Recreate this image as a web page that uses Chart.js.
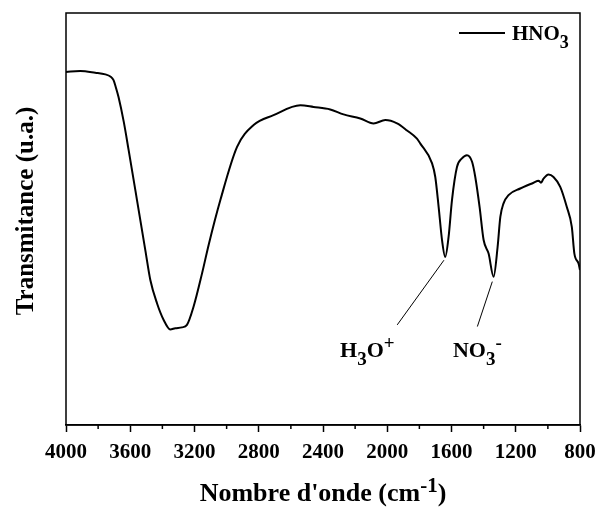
<!DOCTYPE html>
<html>
<head>
<meta charset="utf-8">
<script src="https://cdn.jsdelivr.net/npm/chart.js@4.4.1/dist/chart.umd.min.js"></script>
<style>
  html, body { margin: 0; padding: 0; background: #fff; }
  #wrap { width: 597px; height: 508px; }
</style>
</head>
<body>
<div id="wrap"><canvas id="irChart"></canvas></div>
<script>
  // spectrum (wavenumber in cm-1, transmittance in arbitrary units)
  const wavenumbers = [4000, 3911, 3818, 3755, 3724, 3704, 3690, 3673, 3640, 3610, 3558, 3506, 3475, 3433, 3392, 3351, 3320, 3278, 3247, 3206, 3153, 3112, 3039, 2935, 2832, 2708, 2541, 2459, 2355, 2272, 2168, 2085, 2012, 1939, 1877, 1815, 1794, 1721, 1701, 1680, 1659, 1639, 1618, 1597, 1566, 1535, 1504, 1472, 1452, 1425, 1400, 1369, 1338, 1313, 1296, 1276, 1245, 1172, 1089, 1058, 1043, 1027, 996, 965, 923, 882, 851, 835, 809, 800];
  const transmittance = [85.7, 85.9, 85.5, 85.1, 84.6, 83.7, 82.0, 79.6, 73.5, 66.7, 54.6, 42.4, 35.2, 29.5, 25.5, 23.2, 23.5, 23.7, 24.3, 28.7, 36.8, 43.7, 54.6, 67.5, 72.8, 75.2, 77.6, 77.2, 76.6, 75.4, 74.4, 73.2, 74.0, 73.2, 71.5, 69.5, 68.3, 63.5, 60.2, 52.9, 44.9, 40.8, 45.7, 54.6, 62.6, 64.7, 65.5, 63.9, 60.2, 52.9, 44.9, 41.6, 36.0, 43.2, 50.5, 53.8, 55.8, 57.4, 58.8, 59.3, 58.8, 59.8, 60.8, 60.2, 57.8, 52.9, 48.1, 41.6, 39.2, 37.6];
  const majorTicks = [4000, 3600, 3200, 2800, 2400, 2000, 1600, 1200, 800];
  const seriesName = 'HNO3';

  const FONT = '"Liberation Serif", "Times New Roman", serif';

  // draws text made of parts: s = 0 normal, -1 subscript, 1 superscript
  function drawRich(ctx, parts, x, y, size, align, smallRatio) {
    const small = Math.round(size * (smallRatio || 0.8));
    let total = 0;
    parts.forEach(p => {
      ctx.font = 'bold ' + (p.s ? small : size) + 'px ' + FONT;
      p.w = ctx.measureText(p.t).width;
      total += p.w;
    });
    let cx = align === 'center' ? x - total / 2 : (align === 'right' ? x - total : x);
    ctx.textAlign = 'left';
    ctx.textBaseline = 'alphabetic';
    parts.forEach(p => {
      ctx.font = 'bold ' + (p.s ? small : size) + 'px ' + FONT;
      let dy = 0;
      if (p.s === -1) dy = size * 0.38;
      if (p.s === 1) dy = -size * 0.36;
      ctx.fillText(p.t, cx, y + dy);
      cx += p.w;
    });
  }

  const extras = {
    id: 'extras',
    afterDraw(chart) {
      const ctx = chart.ctx;
      const a = chart.chartArea;
      const xs = chart.scales.x, ys = chart.scales.y;
      ctx.save();
      ctx.fillStyle = '#000';
      ctx.strokeStyle = '#000';

      // frame
      ctx.lineWidth = 1.5;
      ctx.strokeRect(a.left, a.top, a.right - a.left, a.bottom - a.top);

      // minor ticks
      xs.ticks.forEach(t => {
        if (majorTicks.includes(t.value)) return;
        const px = xs.getPixelForValue(t.value);
        ctx.beginPath();
        ctx.moveTo(px, a.bottom);
        ctx.lineTo(px, a.bottom + 4);
        ctx.stroke();
      });

      // legend
      ctx.lineWidth = 2;
      ctx.beginPath();
      ctx.moveTo(a.right - 121, a.top + 20);
      ctx.lineTo(a.right - 75, a.top + 20);
      ctx.stroke();
      drawRich(ctx, [{t: seriesName.slice(0, 3)}, {t: seriesName.slice(3), s: -1}], a.right - 68, a.top + 27, 21, 'left', 0.85);

      // peak labels with leader lines
      ctx.lineWidth = 1;
      const marks = [
        {from: [1938, 24.3], to: [1647, 40.0], at: [2124, 16.6], parts: [{t: 'H'}, {t: '3', s: -1}, {t: 'O'}, {t: '+', s: 1}]},
        {from: [1439, 23.9], to: [1346, 34.8], at: [1439, 16.6], parts: [{t: 'NO'}, {t: '3', s: -1}, {t: '-', s: 1}]}
      ];
      marks.forEach(m => {
        ctx.beginPath();
        ctx.moveTo(xs.getPixelForValue(m.from[0]), ys.getPixelForValue(m.from[1]));
        ctx.lineTo(xs.getPixelForValue(m.to[0]), ys.getPixelForValue(m.to[1]));
        ctx.stroke();
        drawRich(ctx, m.parts, xs.getPixelForValue(m.at[0]), ys.getPixelForValue(m.at[1]), 22, 'center', 0.85);
      });

      // axis titles
      const midX = (a.left + a.right) / 2;
      drawRich(ctx, [{t: "Nombre d'onde (cm"}, {t: '-1', s: 1}, {t: ')'}], midX, 501, 26, 'center', 0.8);
      ctx.save();
      ctx.translate(33, (a.top + a.bottom) / 2 - 8);
      ctx.rotate(-Math.PI / 2);
      drawRich(ctx, [{t: 'Transmitance (u.a.)'}], 0, 0, 25, 'center');
      ctx.restore();

      ctx.restore();
    }
  };

  new Chart(document.getElementById('irChart'), {
    type: 'line',
    data: {
      datasets: [{
        label: seriesName,
        data: wavenumbers.map((w, i) => ({x: w, y: transmittance[i]})),
        borderColor: '#000',
        borderWidth: 2,
        pointRadius: 0,
        fill: false,
        cubicInterpolationMode: 'monotone'
      }]
    },
    options: {
      responsive: true,
      maintainAspectRatio: false,
      animation: false,
      layout: { padding: { left: 66, right: 17, top: 13, bottom: 0 } },
      plugins: {
        legend: { display: false },
        tooltip: { enabled: false }
      },
      scales: {
        x: {
          type: 'linear',
          min: 800,
          max: 4000,
          reverse: true,
          afterFit: s => { s.height = 83; s.paddingLeft = 0; s.paddingRight = 0; },
          ticks: {
            stepSize: 200,
            autoSkip: false,
            maxRotation: 0,
            padding: 8,
            color: '#000',
            font: { family: FONT, weight: 'bold', size: 21 },
            callback: v => majorTicks.includes(v) ? String(v) : ''
          },
          grid: {
            drawOnChartArea: false,
            tickLength: 7,
            tickWidth: 1.5,
            tickColor: c => (c.tick && majorTicks.includes(c.tick.value)) ? '#000' : 'rgba(0,0,0,0)'
          },
          border: { display: true, color: '#000', width: 1.5 }
        },
        y: {
          display: false,
          min: 0,
          max: 100
        }
      }
    },
    plugins: [extras]
  });
</script>
</body>
</html>
